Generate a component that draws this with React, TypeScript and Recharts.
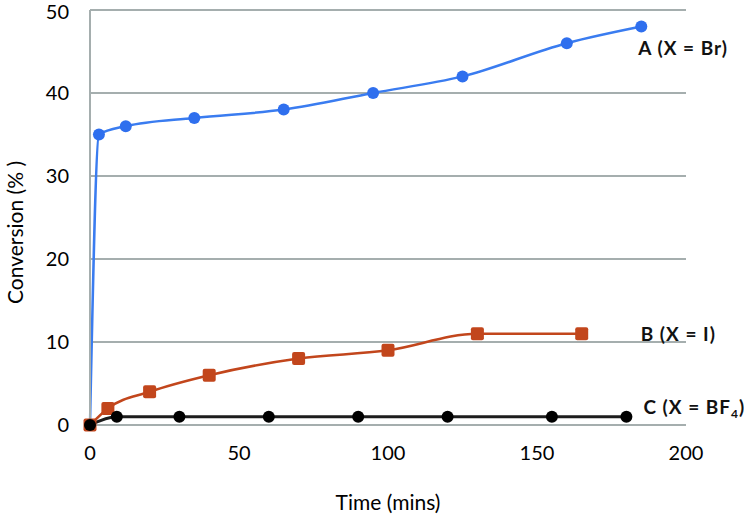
import { CartesianGrid, Line, LineChart, XAxis, YAxis } from "recharts"

// time (mins) / conversion (%) per counter-ion
const timeA = [0, 3, 12, 35, 65, 95, 125, 160, 185]
const convA = [0, 35, 36, 37, 38, 40, 42, 46, 48]
const timeB = [0, 6, 20, 40, 70, 100, 130, 165]
const convB = [0, 2, 4, 6, 8, 9, 11, 11]
const timeC = [0, 9, 30, 60, 90, 120, 155, 180]
const convC = [0, 1, 1, 1, 1, 1, 1, 1]

const xTicks = [0, 50, 100, 150, 200]
const yTicks = [0, 10, 20, 30, 40, 50]

const toRows = (xs: number[], ys: number[]) => xs.map((x, i) => ({ x, y: ys[i] }))

const dataA = toRows(timeA, convA)
const dataB = toRows(timeB, convB)
const dataC = toRows(timeC, convC)

const font = "Lato, 'Open Sans', sans-serif"
const gridColor = "#a5aeae"

const endLabel = (last: number, dx: number, dy: number, content: React.ReactNode) => (props: any) => {
  if (props.index !== last) return null
  return (
    <text key="end" x={props.x + dx} y={props.y + dy} fontFamily={font} fontSize={19} fontWeight="bold" letterSpacing={1} fill="#111">
      {content}
    </text>
  )
}

const squareDot = (props: any) => (
  <rect key={props.index} x={props.cx - 6.5} y={props.cy - 6.5} width={13} height={13} rx={2} fill="#c2461c" />
)

export default function App() {
  return (
    <div style={{ position: "absolute", left: 0, top: 0 }}>
      <LineChart width={744} height={523} margin={{ top: 10, right: 58, bottom: 0, left: 0 }}>
        <CartesianGrid vertical={false} stroke={gridColor} strokeWidth={2} />
        <XAxis
          type="number"
          dataKey="x"
          domain={[0, 200]}
          ticks={xTicks}
          height={98}
          axisLine={false}
          tickLine={false}
          tickMargin={15}
          tick={{ fill: "#000", fontSize: 20, fontFamily: font }}
          label={{
            content: ({ viewBox }: any) => (
              <text x={viewBox.x + viewBox.width / 2} y={viewBox.y + 85} textAnchor="middle" fontFamily={font} fontSize={21} fill="#000">
                Time (mins)
              </text>
            ),
          }}
        />
        <YAxis
          type="number"
          domain={[0, 50]}
          ticks={yTicks}
          width={90}
          axisLine={{ stroke: gridColor, strokeWidth: 2 }}
          tickLine={false}
          tickMargin={15}
          tick={{ fill: "#000", fontSize: 20, fontFamily: font }}
          label={{
            content: ({ viewBox }: any) => {
              const cx = 23
              const cy = viewBox.y + viewBox.height / 2 + 15
              return (
                <text x={cx} y={cy} transform={`rotate(-90, ${cx}, ${cy})`} textAnchor="middle" fontFamily={font} fontSize={21} fill="#000">
                  Conversion (% )
                </text>
              )
            },
          }}
        />
        <Line
          data={dataA}
          dataKey="y"
          type="monotone"
          stroke="#3a7cf0"
          strokeWidth={2.5}
          dot={{ r: 6, fill: "#2f6fee", stroke: "none" }}
          isAnimationActive={false}
          label={endLabel(dataA.length - 1, -3, 28, "A (X = Br)")}
        />
        <Line
          data={dataB}
          dataKey="y"
          type="monotone"
          stroke="#c2461c"
          strokeWidth={2.5}
          dot={squareDot}
          isAnimationActive={false}
          label={endLabel(dataB.length - 1, 59, 7, "B (X = I)")}
        />
        <Line
          data={dataC}
          dataKey="y"
          type="monotone"
          stroke="#1c1c1c"
          strokeWidth={3}
          dot={{ r: 6, fill: "#000", stroke: "none" }}
          isAnimationActive={false}
          label={endLabel(dataC.length - 1, 17, -3, (
            <>
              C (X = BF<tspan fontSize={12} dy={4}>4</tspan>
              <tspan dy={-4}>)</tspan>
            </>
          ))}
        />
      </LineChart>
    </div>
  )
}
